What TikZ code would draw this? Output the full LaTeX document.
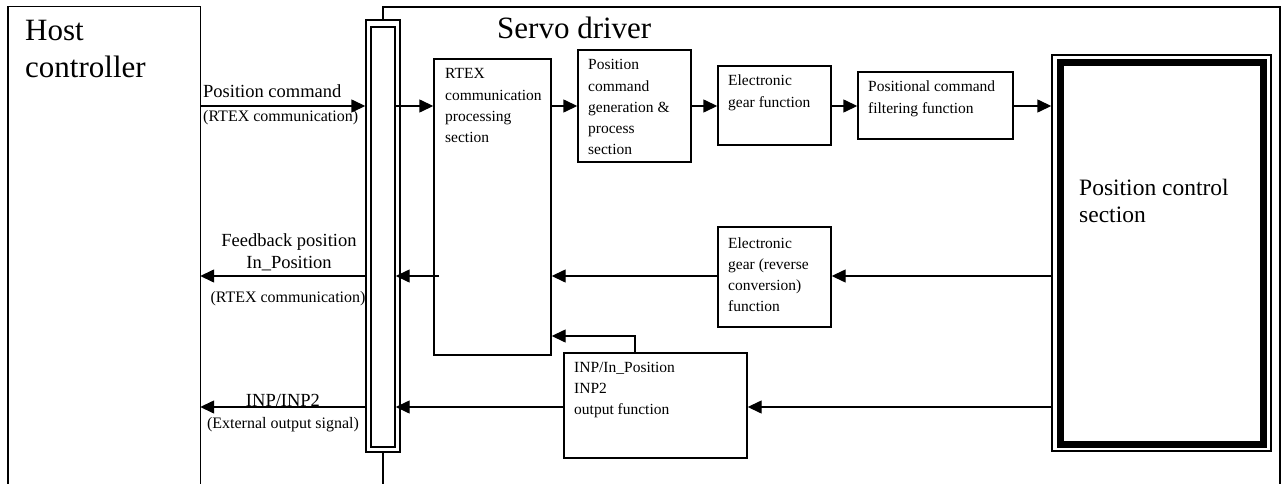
\documentclass[tikz,border=0pt]{standalone}
\usepackage{fontspec}
\setmainfont{Liberation Serif}
\usetikzlibrary{arrows.meta,fit}
\newcommand{\mline}[1]{\begin{tabular}[t]{@{}l@{}}#1\end{tabular}}
\begin{document}
\begin{tikzpicture}[x=1pt,y=-1pt,
  ln/.style={line width=1.4pt},
  box/.style={draw,ln,rectangle,inner sep=0pt},
  arr/.style={ln,-{Triangle[length=14pt,width=13pt]}},
  btxt/.style={inner sep=0pt,anchor=base west,font=\fontsize{15.5}{21.2}\selectfont},
  ltxt/.style={inner sep=0pt,anchor=base,font=\fontsize{18.5}{22}\selectfont},
  stxt/.style={inner sep=0pt,anchor=base,font=\fontsize{16}{20}\selectfont},
  big/.style={inner sep=0pt,anchor=base west,font=\fontsize{31}{37}\selectfont},
  mid/.style={inner sep=0pt,anchor=base west,font=\fontsize{23.5}{28}\selectfont}]
\useasboundingbox (0,0) rectangle (1283,484);
\clip (0,0) rectangle (1283,484);
% host controller
\node[inner sep=0pt,fit={(8,7) (200,520)}] (host) {};
\draw[ln] (host.south west) -- (host.north west) -- (host.north east) -- (host.south east);
\node[big] (hostt) at (25,41) {\mline{Host\\controller}};
% bus
\node[box,fit={(366,20) (400,452)}] (busout) {};
\node[box,fit={(371,27) (395,447)}] (busin) {};
% servo driver frame
\coordinate (sdtl) at (busout.center |- 0,7);
\coordinate (sdtr) at (1280,7);
\coordinate (sdbr) at (1280,520);
\coordinate (sdbl) at (busout.center |- 0,520);
\node[big] (servot) at (497,39) {Servo driver};
\draw[ln] (busout.north) -- (sdtl) -- (sdtr) -- (sdbr);
\draw[ln] (busout.south) -- (sdbl);
% boxes
\node[box,fit={(434,59) (551,355)}] (rtex) {};
\node[btxt] (rtext) at (445,79) {\mline{RTEX\\communication\\processing\\section}};
\node[box,fit={(578,50) (691,162)}] (pcg) {};
\node[btxt] (pcgt) at (588,70) {\mline{Position\\command\\generation \&\\process\\section}};
\node[box,fit={(718,66) (831,145)}] (eg) {};
\node[btxt] (egt) at (728,86) {\mline{Electronic\\gear function}};
\node[box,fit={(858,72) (1013,139)}] (filt) {};
\node[btxt] (filtt) at (868,92) {\mline{Positional command\\filtering function}};
\node[box,fit={(718,227) (831,327)}] (egr) {};
\node[btxt] (egrt) at (728,248) {\mline{Electronic\\gear (reverse\\conversion)\\function}};
\node[box,fit={(564,353) (747,458)}] (inp) {};
\node[btxt] (inpt) at (574,372) {\mline{INP/In\_Position\\INP2\\output function}};
% position control section
\node[box,fit={(1052,55) (1271,451)}] (pc) {};
\draw[line width=7pt] (1060,63) rectangle (1263,444);
\node[mid] (pct) at (1079,195) {\mline{Position control\\section}};
% forward path y=106
\coordinate (r1) at (0,106);
\draw[arr] (host.east |- r1) -- (busout.west |- r1);
\draw[arr] (busin.east |- r1) -- (rtex.west |- r1);
\draw[arr] (rtex.east |- r1) -- (pcg.west |- r1);
\draw[arr] (pcg.east |- r1) -- (eg.west |- r1);
\draw[arr] (eg.east |- r1) -- (filt.west |- r1);
\draw[arr] (filt.east |- r1) -- (pc.west |- r1);
\node[ltxt,anchor=base west] (l1) at (203,98) {Position command};
\node[stxt,anchor=base west] (l2) at (203,122) {(RTEX communication)};
% feedback y=276
\coordinate (r2) at (0,276);
\coordinate (fbs) at (439,276);
\draw[arr] (pc.west |- r2) -- (egr.east |- r2);
\draw[arr] (egr.west |- r2) -- (rtex.east |- r2);
\draw[arr] (fbs) -- (busin.east |- r2);
\draw[arr] (busout.west |- r2) -- (host.east |- r2);
\node[ltxt] (l3) at (289,246) {Feedback position};
\node[ltxt] (l4) at (289,268) {In\_Position};
\node[stxt] (l5) at (288,302) {(RTEX communication)};
% INP y=407
\coordinate (r3) at (0,407);
\draw[arr] (pc.west |- r3) -- (inp.east |- r3);
\draw[arr] (inp.west |- r3) -- (busin.east |- r3);
\draw[arr] (busout.west |- r3) -- (host.east |- r3);
\node[ltxt] (l6) at (283,406) {INP/INP2};
\node[stxt] (l7) at (283,428) {(External output signal)};
% INP to RTEX
\coordinate (ib) at (635,336);
\draw[arr] (inp.north -| ib) -- (ib) -- (rtex.east |- ib);
\end{tikzpicture}
\end{document}
